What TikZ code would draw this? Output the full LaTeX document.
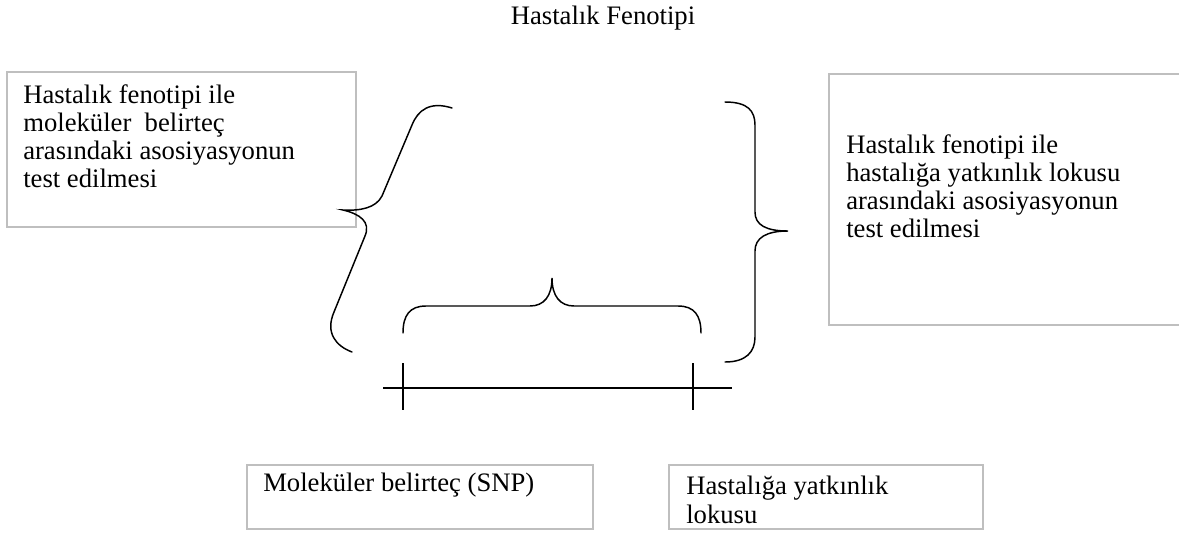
\documentclass[tikz,border=0pt]{standalone}
\usepackage{fontspec}
\setmainfont{Liberation Serif}
\begin{document}
\begin{tikzpicture}[x=0.75pt,y=-0.75pt,
  boxline/.style={draw=black!25, line width=0.9pt},
  brace/.style={draw=black, line width=1.1pt, line cap=round},
  axis/.style={draw=black, line width=1.1pt},
  lbl/.style={anchor=base west, inner sep=0pt, font=\fontsize{20}{21}\selectfont}]
\clip (0,0) rectangle (1179,533);
\fill[white] (0,0) rectangle (1179,533);

% title
\node[lbl, anchor=base] (title) at (603,24) {Hastalık Fenotipi};

% boxes
\draw[boxline] (7,72) rectangle (356,227);
\draw[boxline] (829,74) rectangle (1190,325);
\draw[boxline] (247,465) rectangle (593,529);
\draw[boxline] (669,465) rectangle (983,529);

% texts
\node[lbl] (ltext) at (23,103) {\begin{tabular}[t]{@{}l@{}}Hastalık fenotipi ile\\ moleküler\ \ belirteç\\ arasındaki asosiyasyonun\\ test edilmesi\end{tabular}};
\node[lbl] (rtext) at (846,153) {\begin{tabular}[t]{@{}l@{}}Hastalık fenotipi ile\\ hastalığa yatkınlık lokusu\\ arasındaki asosiyasyonun\\ test edilmesi\end{tabular}};
\node[lbl] (snp) at (263,491) {Moleküler belirteç (SNP)};
\node[lbl] (locus) at (686,494) {\begin{tabular}[t]{@{}l@{}}Hastalığa yatkınlık\\[1pt] lokusu\end{tabular}};

% left slanted brace
\coordinate (lb1) at (452,108);
\coordinate (lbp) at (343,210);
\coordinate (lb2) at (352,352);
\draw[brace] (lb1) .. controls (430,101) and (418,110) .. (412,125) -- (382,196)
  .. controls (376,208) and (360,211) .. (lbp)
  .. controls (360,214) and (371,222) .. (365,236) -- (334,312)
  .. controls (325,333) and (336,346) .. (lb2);

% right brace
\coordinate (rb1) at (725,102);
\coordinate (rbp) at (788,231);
\coordinate (rb2) at (725,362);
\draw[brace] (rb1) .. controls (748,102) and (755,111) .. (755,125) -- (755,212)
  .. controls (755,225) and (766,231) .. (rbp)
  .. controls (766,231) and (755,238) .. (755,251) -- (755,337)
  .. controls (755,352) and (746,362) .. (rb2);

% middle brace
\coordinate (mb1) at (403,333);
\coordinate (mbp) at (552,278);
\coordinate (mb2) at (701,333);
\draw[brace] (mb1) .. controls (403,315) and (410,306) .. (426,306) -- (530,306)
  .. controls (544,306) and (552,296) .. (mbp)
  .. controls (552,296) and (560,306) .. (574,306) -- (678,306)
  .. controls (694,306) and (701,315) .. (mb2);

% axis with ticks
\coordinate (a1) at (383,388);
\coordinate (a2) at (732,388);
\coordinate (t1a) at (403,363);
\coordinate (t1b) at (403,410);
\coordinate (t2a) at (693,363);
\coordinate (t2b) at (693,410);
\draw[axis] (a1) -- (a2);
\draw[axis] (t1a) -- (t1b);
\draw[axis] (t2a) -- (t2b);
\end{tikzpicture}
\end{document}
